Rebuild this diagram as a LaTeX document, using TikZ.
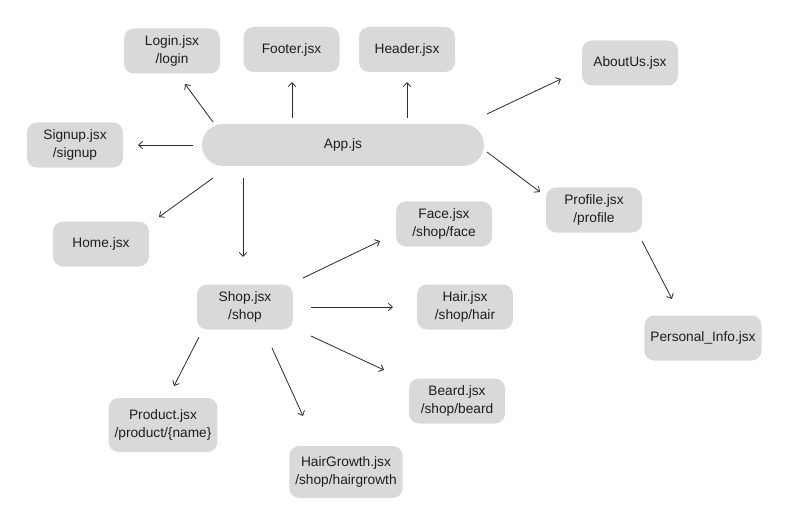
\documentclass[tikz,border=0pt]{standalone}
\usepackage{fontspec}
\setmainfont{Liberation Sans}
\usepackage{tikz}
\usetikzlibrary{arrows.meta}
\definecolor{pagegray}{RGB}{217,217,217}
\definecolor{inkdark}{RGB}{30,30,30}
\definecolor{linedark}{RGB}{45,45,45}
\newcommand{\pagefont}{\fontsize{11.7}{15.4}\selectfont}
\tikzset{
  page/.style={rectangle, fill=pagegray, rounded corners=3mm,
    minimum width=28.8mm, minimum height=13.5mm, inner xsep=1.8mm,
    align=center, font=\pagefont, text=inkdark},
  rootpage/.style={page, rounded corners=6.3mm,
    minimum width=84.6mm, minimum height=12.6mm},
  arrow/.style={-{Straight Barb[length=1.2mm, width=2.2mm]},
    line width=0.7pt, color=linedark}
}

\begin{document}
\begin{tikzpicture}[x=0.3mm, y=-0.3mm]
  \useasboundingbox (0,0) rectangle (788,518);
  % pages
  \node[rootpage] (app) at (343,145) {App.js};
  \node[page] (login) at (172,51) {Login.jsx\\/login};
  \node[page] (footer) at (291.5,49.5) {Footer.jsx};
  \node[page] (header) at (407,49.5) {Header.jsx};
  \node[page] (aboutus) at (630,63) {AboutUs.jsx};
  \node[page] (signup) at (75,145) {Signup.jsx\\/signup};
  \node[page] (profile) at (594,210) {Profile.jsx\\/profile};
  \node[page] (home) at (101,244) {Home.jsx};
  \node[page] (face) at (444,224) {Face.jsx\\/shop/face};
  \node[page] (shop) at (245,307) {Shop.jsx\\/shop};
  \node[page] (hair) at (465,307) {Hair.jsx\\/shop/hair};
  \node[page] (personal) at (703,338) {Personal\_Info.jsx};
  \node[page] (beard) at (457,401) {Beard.jsx\\/shop/beard};
  \node[page, minimum height=16.2mm] (product) at (163,425) {Product.jsx\\/product/\{name\}};
  \node[page, minimum height=15.6mm] (hairgrowth) at (346,472) {HairGrowth.jsx\\/shop/hairgrowth};
  % routes from App
  \draw[arrow] ([shift={(-130,-23)}]app.center) -- ([shift={(13,33)}]login.center);
  \draw[arrow] ([shift={(-51,-27)}]app.center) -- ([shift={(0.5,32.5)}]footer.center);
  \draw[arrow] ([shift={(64,-27)}]app.center) -- ([shift={(0,32.5)}]header.center);
  \draw[arrow] ([shift={(-150,0)}]app.center) -- ([shift={(63,0)}]signup.center);
  \draw[arrow] ([shift={(144,-31)}]app.center) -- ([shift={(-69,16)}]aboutus.center);
  \draw[arrow] ([shift={(144,7)}]app.center) -- ([shift={(-54,-18)}]profile.center);
  \draw[arrow] ([shift={(-130,33)}]app.center) -- ([shift={(58,-27)}]home.center);
  \draw[arrow] ([shift={(-100,33)}]app.center) -- ([shift={(-2,-50)}]shop.center);
  % routes from Shop
  \draw[arrow] ([shift={(58,-29)}]shop.center) -- ([shift={(-64,17)}]face.center);
  \draw[arrow] ([shift={(66,0)}]shop.center) -- ([shift={(-72,0)}]hair.center);
  \draw[arrow] ([shift={(66,29)}]shop.center) -- ([shift={(-73,-31)}]beard.center);
  \draw[arrow] ([shift={(-46,30)}]shop.center) -- ([shift={(11,-39)}]product.center);
  \draw[arrow] ([shift={(27,41)}]shop.center) -- ([shift={(-43,-56)}]hairgrowth.center);
  % route from Profile
  \draw[arrow] ([shift={(48,31)}]profile.center) -- ([shift={(-31,-39)}]personal.center);
\end{tikzpicture}
\end{document}
